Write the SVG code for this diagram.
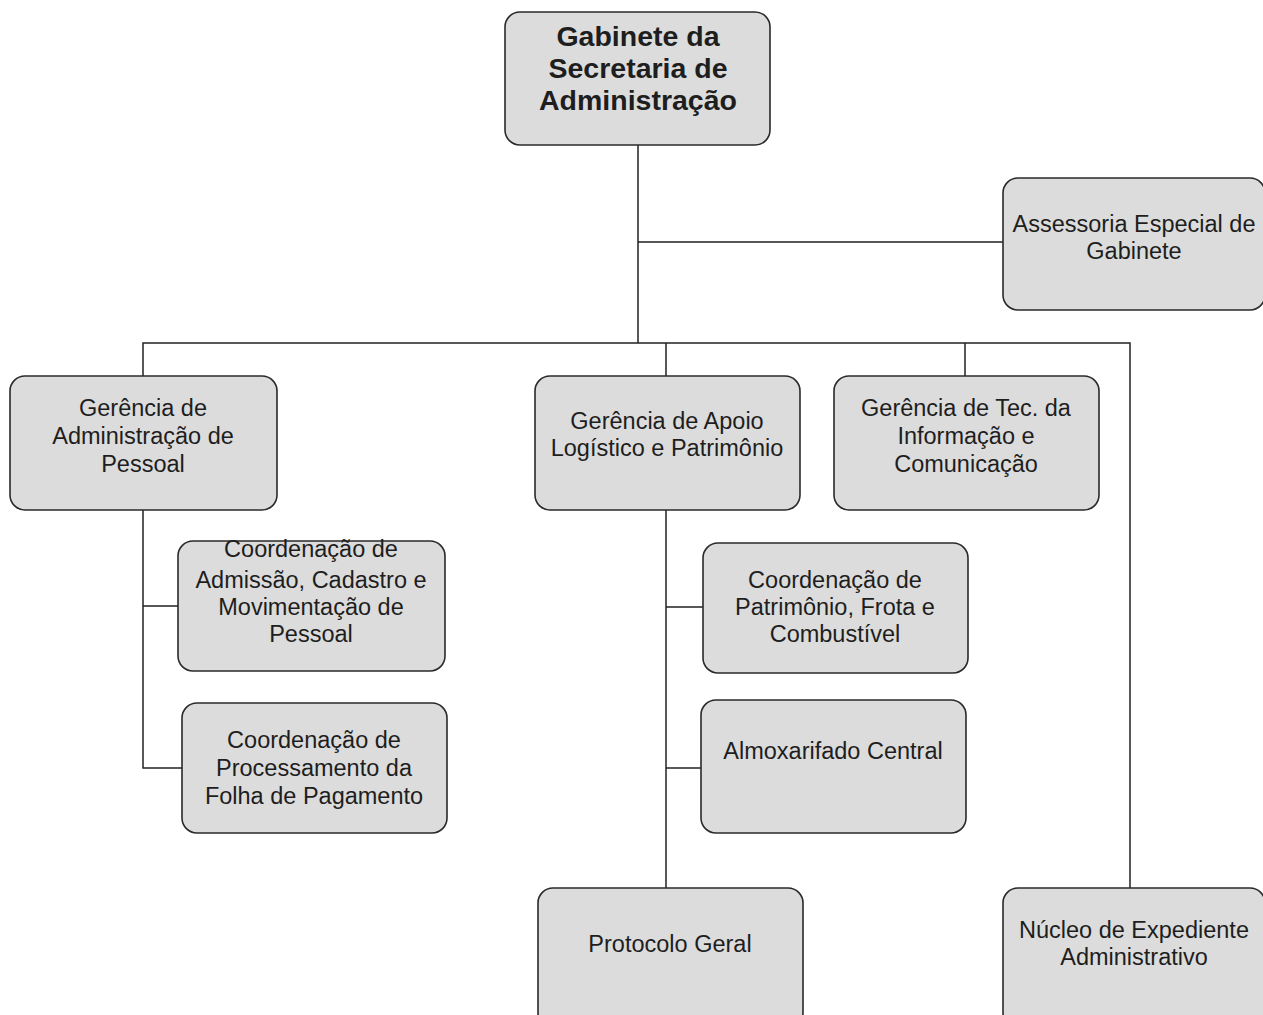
<svg xmlns="http://www.w3.org/2000/svg" width="1263" height="1015" viewBox="0 0 1263 1015">
<style>
.box{fill:#dcdcdc;stroke:#2a2a2a;stroke-width:1.6}
.t{font-family:"Liberation Sans",Arial,sans-serif;font-size:23.5px;fill:#1e1e1e;text-anchor:middle}
.b{font-family:"Liberation Sans",Arial,sans-serif;font-size:28.5px;font-weight:bold;fill:#1e1e1e;text-anchor:middle}
.c{fill:none;stroke:#222;stroke-width:1.5}
</style>
<rect width="1263" height="1015" fill="#fff"/>
<g id="connectors">
<path class="c" d="M638 145V343M638 242H1003"/>
<path class="c" d="M143 376V343H1130V888M666 343V376M965 343V376"/>
<path class="c" d="M143 510V768H182M143 606H178"/>
<path class="c" d="M666 510V888M666 607H703M666 768H701"/>
</g>
<g id="gabinete">
<rect class="box" x="505" y="12" width="265" height="133" rx="15"/>
<text class="b" x="638" y="46">Gabinete da</text>
<text class="b" x="638" y="78">Secretaria de</text>
<text class="b" x="638" y="110">Administração</text>
</g>
<g id="assessoria">
<rect class="box" x="1003" y="178" width="262" height="132" rx="15"/>
<text class="t" x="1134" y="232">Assessoria Especial de</text>
<text class="t" x="1134" y="259">Gabinete</text>
</g>
<g id="ger-pessoal">
<rect class="box" x="10" y="376" width="267" height="134" rx="15"/>
<text class="t" x="143" y="416">Gerência de</text>
<text class="t" x="143" y="444">Administração de</text>
<text class="t" x="143" y="472">Pessoal</text>
</g>
<g id="ger-apoio">
<rect class="box" x="535" y="376" width="265" height="134" rx="15"/>
<text class="t" x="667" y="429">Gerência de Apoio</text>
<text class="t" x="667" y="456">Logístico e Patrimônio</text>
</g>
<g id="ger-ti">
<rect class="box" x="834" y="376" width="265" height="134" rx="15"/>
<text class="t" x="966" y="416">Gerência de Tec. da</text>
<text class="t" x="966" y="444">Informação e</text>
<text class="t" x="966" y="472">Comunicação</text>
</g>
<g id="coord-admissao">
<rect class="box" x="178" y="541" width="267" height="130" rx="15"/>
<text class="t" x="311" y="557">Coordenação de</text>
<text class="t" x="311" y="588">Admissão, Cadastro e</text>
<text class="t" x="311" y="615">Movimentação de</text>
<text class="t" x="311" y="642">Pessoal</text>
</g>
<g id="coord-folha">
<rect class="box" x="182" y="703" width="265" height="130" rx="15"/>
<text class="t" x="314" y="748">Coordenação de</text>
<text class="t" x="314" y="776">Processamento da</text>
<text class="t" x="314" y="804">Folha de Pagamento</text>
</g>
<g id="coord-patrimonio">
<rect class="box" x="703" y="543" width="265" height="130" rx="15"/>
<text class="t" x="835" y="588">Coordenação de</text>
<text class="t" x="835" y="615">Patrimônio, Frota e</text>
<text class="t" x="835" y="642">Combustível</text>
</g>
<g id="almoxarifado">
<rect class="box" x="701" y="700" width="265" height="133" rx="15"/>
<text class="t" x="833" y="759">Almoxarifado Central</text>
</g>
<g id="protocolo">
<rect class="box" x="538" y="888" width="265" height="140" rx="15"/>
<text class="t" x="670" y="952">Protocolo Geral</text>
</g>
<g id="nucleo">
<rect class="box" x="1003" y="888" width="262" height="140" rx="15"/>
<text class="t" x="1134" y="938">Núcleo de Expediente</text>
<text class="t" x="1134" y="965">Administrativo</text>
</g>
</svg>
